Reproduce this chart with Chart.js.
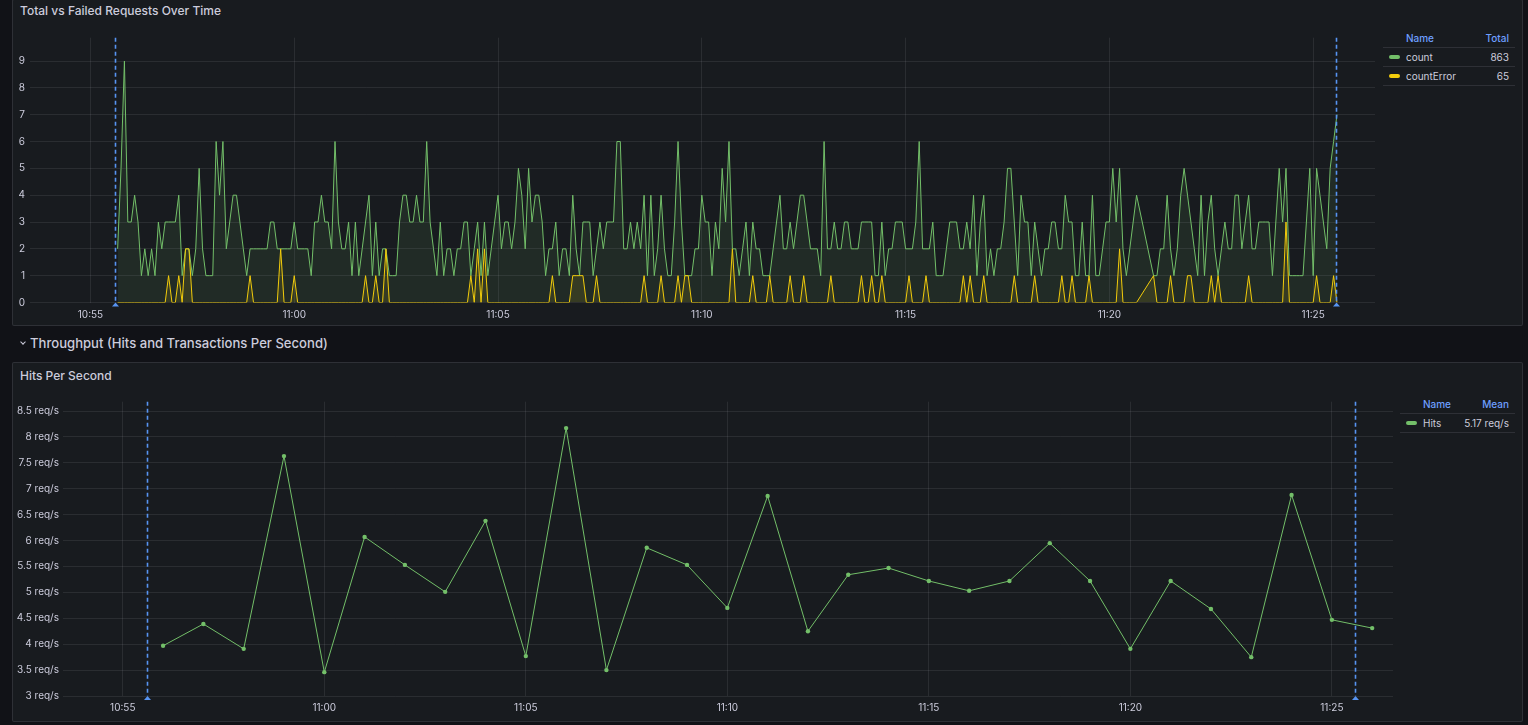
<!DOCTYPE html>
<html>
<head>
    <title>Requests and Throughput</title>
    <script src="https://cdn.jsdelivr.net/npm/chart.js"></script>
    <style>
        html, body {
            margin: 0;
            padding: 0;
            width: 1528px;
            height: 725px;
            overflow: hidden;
            background: #111217;
            font-family: Inter, "Open Sans", sans-serif;
            color: #ccccdc;
        }
        .panel {
            position: absolute;
            background: #181b1f;
            border: 1px solid rgba(204, 204, 220, 0.12);
            border-radius: 2px;
            box-sizing: border-box;
        }
        .ptitle {
            position: absolute;
            font-size: 12px;
            font-weight: 500;
            line-height: 14px;
            white-space: nowrap;
        }
        .rowtitle {
            position: absolute;
            left: 30px;
            top: 335px;
            font-size: 13.1px;
            font-weight: 500;
            line-height: 16px;
            white-space: nowrap;
        }
        .chev {
            position: absolute;
            left: 21px;
            top: 340px;
            width: 3px;
            height: 3px;
            border-right: 1.2px solid #ccccdc;
            border-bottom: 1.2px solid #ccccdc;
            transform: rotate(45deg);
        }
        .chartbox {
            position: absolute;
        }
        table.legend {
            position: absolute;
            border-collapse: collapse;
            font-size: 10px;
            line-height: 18px;
        }
        table.legend th {
            color: #6e9fff;
            font-weight: 500;
            padding: 0;
            border-bottom: 1px solid rgba(204, 204, 220, 0.12);
        }
        table.legend td {
            padding: 0;
            border-bottom: 1px solid rgba(204, 204, 220, 0.12);
            white-space: nowrap;
        }
        .sw {
            display: inline-block;
            width: 11px;
            height: 4px;
            border-radius: 2px;
            vertical-align: middle;
            margin: 0 6px 0 6px;
            position: relative;
            top: -1px;
        }
    </style>
</head>
<body>
    <div class="panel" style="left:12px; top:-1px; width:1511px; height:327px"></div>
    <div class="ptitle" style="left:20px; top:4px">Total vs Failed Requests Over Time</div>
    <div class="chartbox" style="left:12px; top:28px; width:1370px; height:297px">
        <canvas id="requestsChart"></canvas>
    </div>
    <table class="legend" id="reqLegend" style="left:1383px; top:29px; width:132px"></table>

    <div class="chev"></div>
    <div class="rowtitle">Throughput (Hits and Transactions Per Second)</div>

    <div class="panel" style="left:12px; top:362px; width:1511px; height:360px"></div>
    <div class="ptitle" style="left:20px; top:369px">Hits Per Second</div>
    <div class="chartbox" style="left:12px; top:392px; width:1385px; height:330px">
        <canvas id="hitsChart"></canvas>
    </div>
    <table class="legend" id="hitsLegend" style="left:1400px; top:395px; width:115px"></table>

    <script>
        // visible time range and the query range markers (dashed blue lines)
        var viewStart = '10:53:31';
        var viewEnd = '11:26:31';
        var markTimes = ['10:55:36', '11:25:34'];
        var xTickLabels = ['10:55', '11:00', '11:05', '11:10', '11:15', '11:20', '11:25'];

        // Total vs Failed: one sample every 5 s from 10:55:40 (null = missing sample)
        var countStart = '10:55:40';
        var countStep = 5;
        var countValues = [
            2,5,9,3,3,4,3,1,2,1,2,1,3,2,3,3,3,3,4,1,
            2,2,1,2,5,2,1,1,1,6,4,6,2,3,4,4,3,2,1,2,
            2,2,2,2,2,3,3,2,2,2,2,2,3,2,2,2,2,1,3,3,
            4,3,3,2,6,3,2,2,3,1,3,1,2,3,4,1,3,1,2,2,
            1,1,1,3,4,4,3,3,4,3,3,6,3,2,1,3,1,2,2,1,
            2,2,3,3,1,2,3,1,3,1,2,3,4,2,3,3,2,3,5,4,
            2,5,3,4,4,3,1,2,2,3,1,2,2,1,4,2,1,3,3,3,
            1,2,3,2,3,3,3,6,6,2,2,3,2,3,2,4,1,4,1,2,
            4,2,1,1,3,6,3,1,1,1,2,2,4,3,3,1,3,2,5,3,
            6,2,2,1,2,3,1,3,2,2,1,1,1,2,3,4,2,2,3,2,
            3,4,4,3,2,2,2,1,6,2,2,3,2,2,3,3,2,2,2,3,
            3,3,3,1,1,3,1,2,2,3,3,3,2,2,2,3,6,2,2,2,
            3,1,1,1,2,3,3,3,2,2,3,2,4,1,3,4,1,2,1,2,
            2,3,5,5,3,1,4,3,3,1,3,2,1,2,2,3,3,2,2,4,
            3,3,1,1,3,1,1,4,1,1,2,3,3,5,3,5,2,1,2,3,
            4,null,null,null,null,1,1,2,2,4,2,1,2,4,5,4,3,2,1,4,
            1,3,4,2,1,2,3,2,2,4,4,2,3,4,2,2,3,3,3,3,
            1,3,5,3,5,1,1,1,1,1,3,5,1,5,4,3,2,5,6,7
        ];
        var countErrorValues = [
            0,0,0,0,0,0,0,0,0,0,0,0,0,0,0,1,0,0,1,0,
            2,2,0,0,0,0,0,0,0,0,0,0,0,0,0,0,0,0,0,1,
            0,0,0,0,0,0,0,0,2,0,0,0,1,0,0,0,0,0,0,0,
            0,0,0,0,0,0,0,0,0,0,0,0,0,1,0,0,1,0,0,2,
            0,0,0,0,0,0,0,0,0,0,0,0,0,0,0,0,0,0,0,0,
            0,0,0,0,1,0,2,0,2,0,0,0,0,0,0,0,0,0,0,0,
            0,0,0,0,0,0,0,0,1,0,0,0,0,0,1,1,1,1,0,0,
            0,1,0,0,0,0,0,0,0,0,0,0,0,0,0,1,0,0,0,0,
            1,0,0,0,0,1,0,1,1,0,0,0,0,0,0,0,0,0,0,0,
            0,2,0,0,0,0,0,1,0,0,0,0,1,0,0,0,0,0,1,0,
            0,0,1,0,0,0,0,0,0,0,1,0,0,0,0,0,0,0,0,1,
            0,0,1,0,0,1,0,0,0,0,0,0,0,1,0,0,0,0,1,0,
            0,0,0,0,0,0,0,0,0,1,0,1,0,0,0,1,0,0,0,0,
            0,0,0,0,1,0,0,0,0,0,1,0,0,0,0,0,0,0,1,0,
            0,1,0,0,0,0,1,0,0,0,0,0,0,0,0,2,0,0,0,0,
            0,null,null,null,null,1,0,0,0,0,1,0,0,0,0,1,1,0,0,0,
            0,0,1,0,1,0,0,0,0,0,0,0,0,1,0,0,0,0,0,0,
            0,0,0,0,3,0,0,0,0,0,0,0,0,1,0,0,0,0,1,0
        ];
        var reqSeriesNames = ['count', 'countError'];
        var reqLegendTotals = ['863', '65'];
        var reqYTicks = [0, 1, 2, 3, 4, 5, 6, 7, 8, 9];

        // Hits per second: one point per minute from 10:56
        var hitsStart = '10:56';
        var hitsStep = 60;
        var hitsValues = [
            3.97, 4.39, 3.91, 7.63, 3.46, 6.07, 5.53, 5.01, 6.38, 3.77,
            8.17, 3.50, 5.86, 5.53, 4.70, 6.86, 4.25, 5.34, 5.47, 5.22,
            5.03, 5.22, 5.95, 5.22, 3.91, 5.22, 4.68, 3.75, 6.88, 4.47,
            4.31
        ];
        var hitsSeriesName = 'Hits';
        var hitsLegendMean = '5.17 req/s';
        var hitsYTicks = [3, 3.5, 4, 4.5, 5, 5.5, 6, 6.5, 7, 7.5, 8, 8.5];

        var green = '#73bf69';
        var yellow = '#f2cc0c';
        var blue = '#5794f2';
        var gridColor = 'rgba(204, 204, 220, 0.1)';
        var textColor = '#ccccdc';

        Chart.defaults.font.family = 'Inter, "Open Sans", sans-serif';
        Chart.defaults.font.size = 10;
        Chart.defaults.color = textColor;

        function toSec(s) {
            var p = s.split(':').map(Number);
            return p[0] * 3600 + p[1] * 60 + (p[2] || 0);
        }

        function toPoints(start, step, values) {
            var t0 = toSec(start);
            return values.map(function(v, i) { return {x: t0 + i * step, y: v}; });
        }

        // dashed blue markers with a small triangle under the plot
        var rangeMarks = {
            id: 'rangeMarks',
            afterDatasetsDraw: function(chart) {
                var ctx = chart.ctx, a = chart.chartArea, xs = chart.scales.x;
                ctx.save();
                ctx.strokeStyle = blue;
                ctx.fillStyle = blue;
                ctx.lineWidth = 1.6;
                markTimes.forEach(function(t) {
                    var px = Math.round(xs.getPixelForValue(toSec(t))) + 0.5;
                    ctx.setLineDash([4, 3]);
                    ctx.beginPath();
                    ctx.moveTo(px, a.top);
                    ctx.lineTo(px, a.bottom);
                    ctx.stroke();
                    ctx.setLineDash([]);
                    ctx.beginPath();
                    ctx.moveTo(px - 3.5, a.bottom + 4);
                    ctx.lineTo(px + 3.5, a.bottom + 4);
                    ctx.lineTo(px, a.bottom);
                    ctx.closePath();
                    ctx.fill();
                });
                ctx.restore();
            }
        };

        function xScale(axisHeight) {
            return {
                type: 'linear',
                min: toSec(viewStart),
                max: toSec(viewEnd),
                afterBuildTicks: function(s) {
                    s.ticks = xTickLabels.map(function(l) { return {value: toSec(l)}; });
                },
                ticks: {
                    autoSkip: false,
                    maxRotation: 0,
                    padding: 6,
                    callback: function(v, i) { return xTickLabels[i]; }
                },
                grid: {color: gridColor, drawTicks: false},
                border: {display: false},
                afterFit: function(s) {
                    s.height = axisHeight;
                    s.paddingLeft = 0;
                    s.paddingRight = 0;
                }
            };
        }

        function yScale(min, max, tickValues, axisWidth, pad, fmt) {
            return {
                min: min,
                max: max,
                afterBuildTicks: function(s) {
                    s.ticks = tickValues.map(function(v) { return {value: v}; });
                },
                ticks: {padding: pad, callback: fmt},
                grid: {color: gridColor, drawTicks: false},
                border: {display: false},
                afterFit: function(s) {
                    s.width = axisWidth;
                    s.paddingTop = 0;
                    s.paddingBottom = 0;
                }
            };
        }

        var ctx1 = document.getElementById('requestsChart').getContext('2d');
        var requestsChart = new Chart(ctx1, {
            type: 'line',
            data: {
                datasets: [
                    {label: reqSeriesNames[0], data: toPoints(countStart, countStep, countValues),
                     borderColor: green, backgroundColor: 'rgba(115, 191, 105, 0.1)', fill: 'origin', order: 1},
                    {label: reqSeriesNames[1], data: toPoints(countStart, countStep, countErrorValues),
                     borderColor: yellow, backgroundColor: 'rgba(242, 204, 12, 0.1)', fill: 'origin', order: 0}
                ]
            },
            options: {
                responsive: true,
                maintainAspectRatio: false,
                animation: false,
                layout: {padding: {top: 9.7, right: 7, left: 0, bottom: 0}},
                elements: {
                    line: {borderWidth: 1, tension: 0},
                    point: {radius: 0}
                },
                datasets: {line: {spanGaps: true}},
                plugins: {legend: {display: false}, tooltip: {enabled: false}},
                scales: {
                    x: xScale(22.5),
                    y: yScale(0, 9.87, reqYTicks, 18, 5, function(v) { return v; })
                }
            },
            plugins: [rangeMarks]
        });

        var ctx2 = document.getElementById('hitsChart').getContext('2d');
        var hitsChart = new Chart(ctx2, {
            type: 'line',
            data: {
                datasets: [
                    {label: hitsSeriesName, data: toPoints(hitsStart, hitsStep, hitsValues),
                     borderColor: green, backgroundColor: green, fill: false,
                     pointRadius: 2.2, pointBorderWidth: 0, pointBackgroundColor: green}
                ]
            },
            options: {
                responsive: true,
                maintainAspectRatio: false,
                animation: false,
                layout: {padding: {top: 9.7, right: 3, left: 0, bottom: 0}},
                elements: {line: {borderWidth: 1, tension: 0}},
                plugins: {legend: {display: false}, tooltip: {enabled: false}},
                scales: {
                    x: xScale(26),
                    y: yScale(3, 8.68, hitsYTicks, 51, 4, function(v) { return v + ' req/s'; })
                }
            },
            plugins: [rangeMarks]
        });

        // table legends, Grafana style
        function buildLegend(id, header, rows) {
            var html = '<tr><th style="text-align:left;padding-left:23px">' + header[0] + '</th>' +
                       '<th style="text-align:right;padding-right:6px">' + header[1] + '</th></tr>';
            rows.forEach(function(r) {
                html += '<tr><td><span class="sw" style="background:' + r[1] + '"></span>' + r[0] + '</td>' +
                        '<td style="text-align:right;padding-right:6px">' + r[2] + '</td></tr>';
            });
            document.getElementById(id).innerHTML = html;
        }
        buildLegend('reqLegend', ['Name', 'Total'], [
            [reqSeriesNames[0], green, reqLegendTotals[0]],
            [reqSeriesNames[1], yellow, reqLegendTotals[1]]
        ]);
        buildLegend('hitsLegend', ['Name', 'Mean'], [
            [hitsSeriesName, green, hitsLegendMean]
        ]);
    </script>
</body>
</html>
